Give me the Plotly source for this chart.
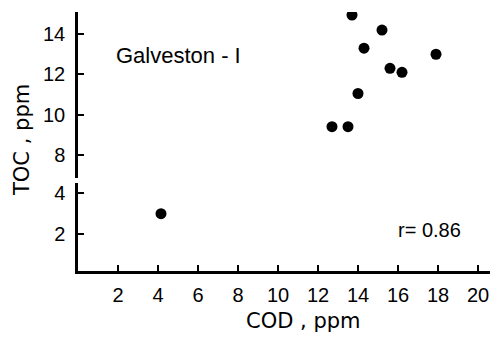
import plotly.graph_objects as go

# Data
cod = [13.7, 15.2, 14.3, 17.9, 15.6, 16.2, 14.0, 12.7, 13.5, 4.15]
toc = [14.95, 14.2, 13.3, 13.0, 12.3, 12.1, 11.05, 9.4, 9.4, 3.0]
x_ticks = [2, 4, 6, 8, 10, 12, 14, 16, 18, 20]
y_ticks_low = [2, 4]
y_ticks_high = [8, 10, 12, 14]
break_value = 6

lo_x = [x for x, y in zip(cod, toc) if y < break_value]
lo_y = [y for y in toc if y < break_value]
hi_x = [x for x, y in zip(cod, toc) if y >= break_value]
hi_y = [y for y in toc if y >= break_value]

FONT = "Liberation Sans"
marker = dict(color="black", size=11, line=dict(width=0))

fig = go.Figure()
fig.add_trace(go.Scatter(x=lo_x, y=lo_y, mode="markers", marker=marker,
                         xaxis="x", yaxis="y", showlegend=False))
fig.add_trace(go.Scatter(x=hi_x, y=hi_y, mode="markers", marker=marker,
                         xaxis="x", yaxis="y2", showlegend=False))

axis_common = dict(showline=True, linecolor="black", linewidth=2.5,
                   ticks="inside", ticklen=6, tickwidth=2, tickcolor="black",
                   showgrid=False, zeroline=False,
                   tickfont=dict(family=FONT, size=20, color="black"))

fig.update_layout(
    width=497, height=339,
    margin=dict(l=78, r=7, t=12, b=68),
    plot_bgcolor="white", paper_bgcolor="white",
    xaxis=dict(range=[0, 20.6], tickvals=x_ticks, anchor="y",
               ticklabelstandoff=4, **axis_common),
    yaxis=dict(domain=[0, 0.34], range=[0.2, 4.5], tickvals=y_ticks_low,
               anchor="x", ticklabelstandoff=6, **axis_common),
    yaxis2=dict(domain=[0.359, 1], range=[6.85, 15.1], tickvals=y_ticks_high,
                anchor="x", ticklabelstandoff=6, **axis_common),
    annotations=[
        dict(text="Galveston - I", xref="paper", yref="paper",
             x=(178 - 78) / 412, y=(271 - 55) / 259, showarrow=False,
             font=dict(family=FONT, size=22, color="black"),
             xanchor="center", yanchor="middle"),
        dict(text="r= 0.86", xref="paper", yref="paper",
             x=(429 - 78) / 412, y=(271 - 230) / 259, showarrow=False,
             font=dict(family=FONT, size=20, color="black"),
             xanchor="center", yanchor="middle"),
        dict(text="COD , ppm", xref="paper", yref="paper",
             x=(303 - 78) / 412, y=(271 - 321) / 259, showarrow=False,
             font=dict(family="DejaVu Sans", size=21, color="black"),
             xanchor="center", yanchor="middle"),
        dict(text="TOC , ppm", xref="paper", yref="paper", textangle=-90,
             x=(22 - 78) / 412, y=(271 - 140) / 259, showarrow=False,
             font=dict(family="DejaVu Sans", size=21, color="black"),
             xanchor="center", yanchor="middle"),
    ],
)

fig.write_html("out.html")
